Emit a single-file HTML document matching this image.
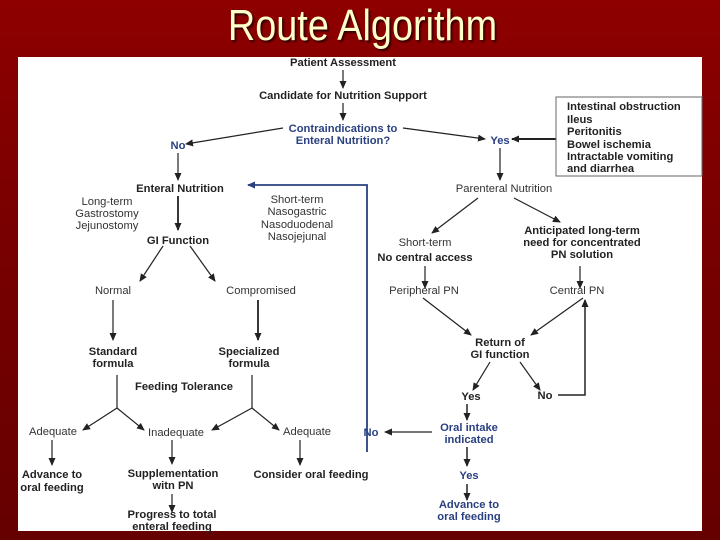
<!DOCTYPE html>
<html><head><style>
html,body{margin:0;padding:0;}
body{width:720px;height:540px;overflow:hidden;background:linear-gradient(180deg,#8e0000 0%,#7a0000 40%,#650000 100%);position:relative;font-family:"Liberation Sans",sans-serif;}
.title{position:absolute;left:0;width:725px;top:1px;text-align:center;color:#ffffcc;font-size:44px;transform:scaleX(0.86);text-shadow:2px 2px 2px #300;}
svg{position:absolute;left:0;top:0;}
</style></head><body>
<div class="title">Route Algorithm</div>
<svg width="720" height="540" viewBox="0 0 720 540" font-family="Liberation Sans, sans-serif" font-size="11.2">
<defs>
<marker id="a" markerWidth="8" markerHeight="8" refX="7" refY="4" orient="auto" markerUnits="userSpaceOnUse"><path d="M0,0.5 L8,4 L0,7.5 Z" fill="#222"/></marker>
<marker id="b" markerWidth="8" markerHeight="8" refX="7" refY="4" orient="auto" markerUnits="userSpaceOnUse"><path d="M0,0.5 L8,4 L0,7.5 Z" fill="#2a4080"/></marker>
</defs>
<rect x="18" y="57" width="684" height="474" fill="#fff"/>
<g stroke="#222" stroke-width="1.2" fill="none" marker-end="url(#a)">
<line x1="343" y1="70" x2="343" y2="88"/>
<line x1="343" y1="103" x2="343" y2="120"/>
<line x1="283" y1="128" x2="186" y2="144"/>
<line x1="403" y1="128" x2="485" y2="139"/>
<line x1="556" y1="139" x2="512" y2="139" stroke-width="2"/>
<line x1="178" y1="153" x2="178" y2="180"/>
<line x1="500" y1="148" x2="500" y2="180"/>
<line x1="178" y1="196" x2="178" y2="230" stroke-width="1.8"/>
<line x1="478" y1="198" x2="432" y2="233"/>
<line x1="514" y1="198" x2="560" y2="222"/>
<line x1="425" y1="266" x2="425" y2="288"/>
<line x1="580" y1="266" x2="580" y2="288"/>
<line x1="163" y1="246" x2="140" y2="281"/>
<line x1="190" y1="246" x2="215" y2="281"/>
<line x1="113" y1="300" x2="113" y2="340"/>
<line x1="258" y1="300" x2="258" y2="340" stroke-width="1.8"/>
<line x1="117" y1="408" x2="83" y2="430"/>
<line x1="117" y1="408" x2="144" y2="430"/>
<line x1="252" y1="408" x2="212" y2="430"/>
<line x1="252" y1="408" x2="279" y2="430"/>
<line x1="52" y1="440" x2="52" y2="465"/>
<line x1="172" y1="440" x2="172" y2="464"/>
<line x1="300" y1="440" x2="300" y2="465"/>
<line x1="172" y1="494" x2="172" y2="512"/>
<line x1="423" y1="298" x2="471" y2="335"/>
<line x1="583" y1="298" x2="531" y2="335"/>
<line x1="490" y1="362" x2="473" y2="390"/>
<line x1="520" y1="362" x2="540" y2="390"/>
<polyline points="558,395 585,395 585,300" stroke-width="1.5"/>
<line x1="467" y1="404" x2="467" y2="420" stroke-width="1.5"/>
<line x1="432" y1="432" x2="385" y2="432"/>
<line x1="467" y1="447" x2="467" y2="466" stroke-width="1.5"/>
<line x1="467" y1="484" x2="467" y2="500" stroke-width="1.5"/>
</g>
<g stroke="#222" stroke-width="1.2">
<line x1="117" y1="375" x2="117" y2="408"/>
<line x1="252" y1="375" x2="252" y2="408"/>
</g>
<polyline points="367,452 367,185 248,185" stroke="#2a4080" stroke-width="1.8" fill="none" marker-end="url(#b)"/>
<rect x="556" y="97" width="146" height="79" fill="none" stroke="#666" stroke-width="1"/>
<g fill="#222" font-weight="bold" text-anchor="middle">
<text x="343" y="66">Patient Assessment</text>
<text x="343" y="99">Candidate for Nutrition Support</text>
<text x="180" y="192">Enteral Nutrition</text>
<text x="178" y="244">GI Function</text>
<text x="425" y="261">No central access</text>
<text x="582" y="234">Anticipated long-term</text>
<text x="582" y="246">need for concentrated</text>
<text x="582" y="258">PN solution</text>
<text x="113" y="355">Standard</text><text x="113" y="367">formula</text>
<text x="249" y="355">Specialized</text><text x="249" y="367">formula</text>
<text x="184" y="390">Feeding Tolerance</text>
<text x="52" y="478">Advance to</text><text x="52" y="491">oral feeding</text>
<text x="173" y="477">Supplementation</text><text x="173" y="489">witn PN</text>
<text x="311" y="478">Consider oral feeding</text>
<text x="172" y="518">Progress to total</text><text x="172" y="530">enteral feeding</text>
<text x="500" y="346">Return of</text><text x="500" y="358">GI function</text>
<text x="471" y="400">Yes</text><text x="545" y="399">No</text>
</g>
<g fill="#333" text-anchor="middle">
<text x="504" y="192">Parenteral Nutrition</text>
<text x="107" y="205">Long-term</text><text x="107" y="217">Gastrostomy</text><text x="107" y="229">Jejunostomy</text>
<text x="297" y="203">Short-term</text><text x="297" y="215">Nasogastric</text><text x="297" y="228">Nasoduodenal</text><text x="297" y="240">Nasojejunal</text>
<text x="425" y="246">Short-term</text>
<text x="424" y="294">Peripheral PN</text><text x="577" y="294">Central PN</text>
<text x="113" y="294">Normal</text><text x="261" y="294">Compromised</text>
<text x="53" y="435">Adequate</text><text x="176" y="436">Inadequate</text><text x="307" y="435">Adequate</text>
</g>
<g fill="#2a4080" font-weight="bold" text-anchor="middle">
<text x="343" y="132">Contraindications to</text>
<text x="343" y="144">Enteral Nutrition?</text>
<text x="178" y="149">No</text><text x="500" y="144">Yes</text>
<text x="469" y="431">Oral intake</text><text x="469" y="443">indicated</text>
<text x="371" y="436">No</text>
<text x="469" y="479">Yes</text>
<text x="469" y="508">Advance to</text><text x="469" y="520">oral feeding</text>
</g>
<g fill="#222" font-weight="bold">
<text x="567" y="110">Intestinal obstruction</text>
<text x="567" y="123">Ileus</text>
<text x="567" y="135">Peritonitis</text>
<text x="567" y="148">Bowel ischemia</text>
<text x="567" y="160">Intractable vomiting</text>
<text x="567" y="172">and diarrhea</text>
</g>
</svg>
</body></html>
